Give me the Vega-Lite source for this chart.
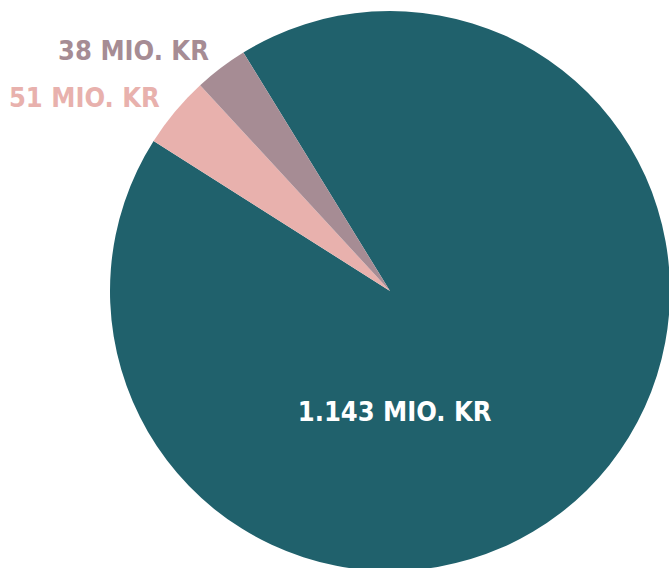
{
  "$schema": "https://vega.github.io/schema/vega-lite/v6.json",
  "width": 669,
  "height": 568,
  "padding": 0,
  "autosize": {"type": "none"},
  "background": "white",
  "config": {"view": {"stroke": null}},
  "data": {
    "values": [
      {"idx": 1, "segment": "A", "value": 1143, "label": "1.143 MIO. KR"},
      {"idx": 2, "segment": "B", "value": 51, "label": "51 MIO. KR"},
      {"idx": 3, "segment": "C", "value": 38, "label": "38 MIO. KR"}
    ]
  },
  "encoding": {
    "theta": {"field": "value", "type": "quantitative", "stack": true, "scale": {"range": [5.732, 12.015]}},
    "order": {"field": "idx", "type": "quantitative"},
    "color": {"field": "segment", "type": "nominal", "legend": null,
      "scale": {"domain": ["A", "B", "C"], "range": ["#20616C", "#E8B1AD", "#A68C94"]}}
  },
  "layer": [
    {"mark": {"type": "arc", "x": 390, "y": 291, "outerRadius": 280}},
    {
      "mark": {"type": "text", "x": 390, "y": 291, "radius": 300, "align": "right", "baseline": "middle",
        "font": "DejaVu Sans Condensed, Roboto Condensed, Liberation Sans Narrow, DejaVu Sans", "fontWeight": "bold", "fontSize": 27},
      "encoding": {
        "text": {"field": "label"},
        "opacity": {"condition": {"test": "datum.idx == 1", "value": 0}, "value": 1}
      }
    },
    {
      "mark": {"type": "text", "x": 390, "y": 291, "radius": 122, "dx": -81, "dy": 35, "align": "center", "baseline": "middle",
        "font": "DejaVu Sans Condensed, Roboto Condensed, Liberation Sans Narrow, DejaVu Sans", "fontWeight": "bold", "fontSize": 27},
      "encoding": {
        "text": {"field": "label"},
        "color": {"value": "white"},
        "opacity": {"condition": {"test": "datum.idx == 1", "value": 1}, "value": 0}
      }
    }
  ]
}
